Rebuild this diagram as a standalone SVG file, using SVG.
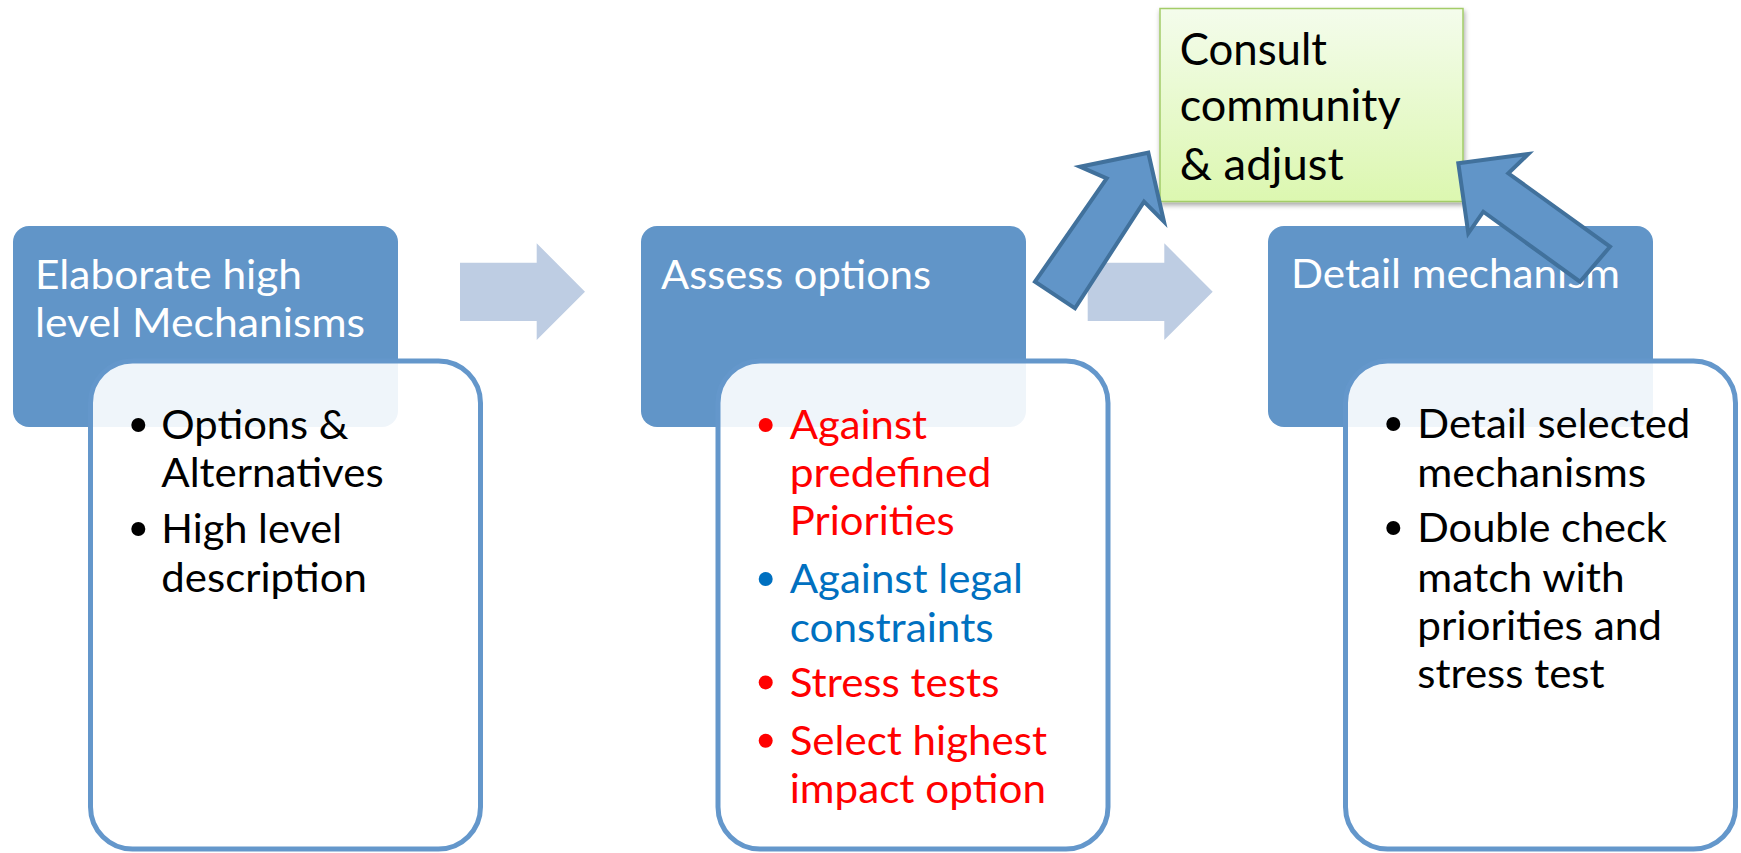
<svg xmlns="http://www.w3.org/2000/svg" width="1741" height="853" viewBox="0 0 1741 853">
<style>
  .hdr{fill:#6195C8;}
  .card{fill:#FFFFFF;fill-opacity:0.9;stroke:#6497CB;stroke-width:5;}
  .t{font-family:Lato,"Open Sans","Liberation Sans",sans-serif;font-size:41px;}
  .w{fill:#FFFFFF;}
  .k{fill:#000000;}
  .r{fill:#FF0000;}
  .b{fill:#0070C0;}
  .g{font-size:43.5px;fill:#000000;}
  .flow{fill:#BECDE3;}
  .big{fill:#6195C8;stroke:#41719C;stroke-width:4;stroke-linejoin:miter;}
</style>
<defs>
  <linearGradient id="gg" x1="0" y1="0" x2="0" y2="1">
    <stop offset="0" stop-color="#F4FCEC"/>
    <stop offset="1" stop-color="#DCF7B0"/>
  </linearGradient>
  <filter id="sh" x="-10%" y="-10%" width="130%" height="130%">
    <feDropShadow dx="1" dy="3" stdDeviation="2.5" flood-color="#000" flood-opacity="0.35"/>
  </filter>
</defs>
<rect width="1741" height="853" fill="#FFFFFF"/>

<g id="node-elaborate">
  <rect class="hdr" x="13" y="226" width="385" height="201" rx="16"/>
  <text class="t w" x="35" y="289" textLength="267" lengthAdjust="spacingAndGlyphs">Elaborate high</text>
  <text class="t w" x="35" y="337" textLength="330" lengthAdjust="spacingAndGlyphs">level Mechanisms</text>
</g>
<g id="node-elaborate-details">
  <rect class="card" x="90.5" y="361" width="390" height="488" rx="42"/>
  <circle class="k" cx="138.3" cy="425" r="7"/>
  <circle class="k" cx="138.3" cy="529" r="7"/>
  <text class="t k" x="161.3" y="439.3" textLength="187.3" lengthAdjust="spacingAndGlyphs">Options &amp;</text>
  <text class="t k" x="161.3" y="486.7" textLength="222.3" lengthAdjust="spacingAndGlyphs">Alternatives</text>
  <text class="t k" x="161.3" y="543.3" textLength="180.7" lengthAdjust="spacingAndGlyphs">High level</text>
  <text class="t k" x="161.3" y="591.7" textLength="205.7" lengthAdjust="spacingAndGlyphs">description</text>
</g>

<g id="node-assess">
  <rect class="hdr" x="641" y="226" width="385" height="201" rx="16"/>
  <text class="t w" x="661" y="289" textLength="270" lengthAdjust="spacingAndGlyphs">Assess options</text>
</g>
<g id="node-assess-details">
  <rect class="card" x="718" y="361" width="390" height="488" rx="42"/>
  <circle class="r" cx="765.7" cy="425" r="7"/>
  <circle class="b" cx="765.7" cy="579" r="7"/>
  <circle class="r" cx="765.7" cy="682.4" r="7"/>
  <circle class="r" cx="765.7" cy="740.7" r="7"/>
  <text class="t r" x="789.7" y="439.3" textLength="137.3" lengthAdjust="spacingAndGlyphs">Against</text>
  <text class="t r" x="789.7" y="486.7" textLength="201.7" lengthAdjust="spacingAndGlyphs">predefined</text>
  <text class="t r" x="789.7" y="535" textLength="165" lengthAdjust="spacingAndGlyphs">Priorities</text>
  <text class="t b" x="789.7" y="593.3" textLength="233.3" lengthAdjust="spacingAndGlyphs">Against legal</text>
  <text class="t b" x="789.7" y="641.7" textLength="204" lengthAdjust="spacingAndGlyphs">constraints</text>
  <text class="t r" x="789.7" y="696.7" textLength="209.7" lengthAdjust="spacingAndGlyphs">Stress tests</text>
  <text class="t r" x="789.7" y="755" textLength="257.3" lengthAdjust="spacingAndGlyphs">Select highest</text>
  <text class="t r" x="789.7" y="803.3" textLength="256.3" lengthAdjust="spacingAndGlyphs">impact option</text>
</g>

<g id="node-detail">
  <rect class="hdr" x="1268" y="226" width="385" height="201" rx="16"/>
  <text class="t w" x="1291" y="288" textLength="329" lengthAdjust="spacingAndGlyphs">Detail mechanism</text>
</g>
<g id="node-detail-details">
  <rect class="card" x="1345.5" y="361" width="390" height="488" rx="42"/>
  <circle class="k" cx="1393.3" cy="424" r="7"/>
  <circle class="k" cx="1393.3" cy="528" r="7"/>
  <text class="t k" x="1417.3" y="438.3" textLength="273" lengthAdjust="spacingAndGlyphs">Detail selected</text>
  <text class="t k" x="1417.3" y="486.7" textLength="229" lengthAdjust="spacingAndGlyphs">mechanisms</text>
  <text class="t k" x="1417.3" y="542.3" textLength="249.7" lengthAdjust="spacingAndGlyphs">Double check</text>
  <text class="t k" x="1417.3" y="591.7" textLength="207.3" lengthAdjust="spacingAndGlyphs">match with</text>
  <text class="t k" x="1417.3" y="640" textLength="244.7" lengthAdjust="spacingAndGlyphs">priorities and</text>
  <text class="t k" x="1417.3" y="688.3" textLength="187.3" lengthAdjust="spacingAndGlyphs">stress test</text>
</g>

<g id="connectors">
  <path class="flow" d="M460,262.7 H536.7 V243.3 L585,291.7 L536.7,340 V321 H460 Z"/>
  <path class="flow" d="M1087.7,262.7 H1164.3 V243.3 L1212.7,291.7 L1164.3,340 V321 H1087.7 Z"/>
</g>

<g id="node-consult">
  <rect x="1160" y="8.5" width="303" height="193" fill="url(#gg)" stroke="#A3CC68" stroke-width="1.5" filter="url(#sh)"/>
  <text class="t g" x="1179.7" y="65" textLength="147.3" lengthAdjust="spacingAndGlyphs">Consult</text>
  <text class="t g" x="1179.7" y="121" textLength="221" lengthAdjust="spacingAndGlyphs">community</text>
  <text class="t g" x="1179.7" y="180" textLength="164" lengthAdjust="spacingAndGlyphs">&amp; adjust</text>
</g>

<g id="feedback-connectors">
  <path class="big" d="M1148.3,152.7 L1164,221.7 L1144,201.7 L1075,308.3 L1035,281.7 L1106.7,178.3 L1080,166.7 Z"/>
  <path class="big" d="M1458.3,163.3 L1528.3,154 L1508.3,173.3 L1610,246.7 L1580,281.7 L1483.3,211.7 L1468.3,233.3 Z"/>
</g>
</svg>
